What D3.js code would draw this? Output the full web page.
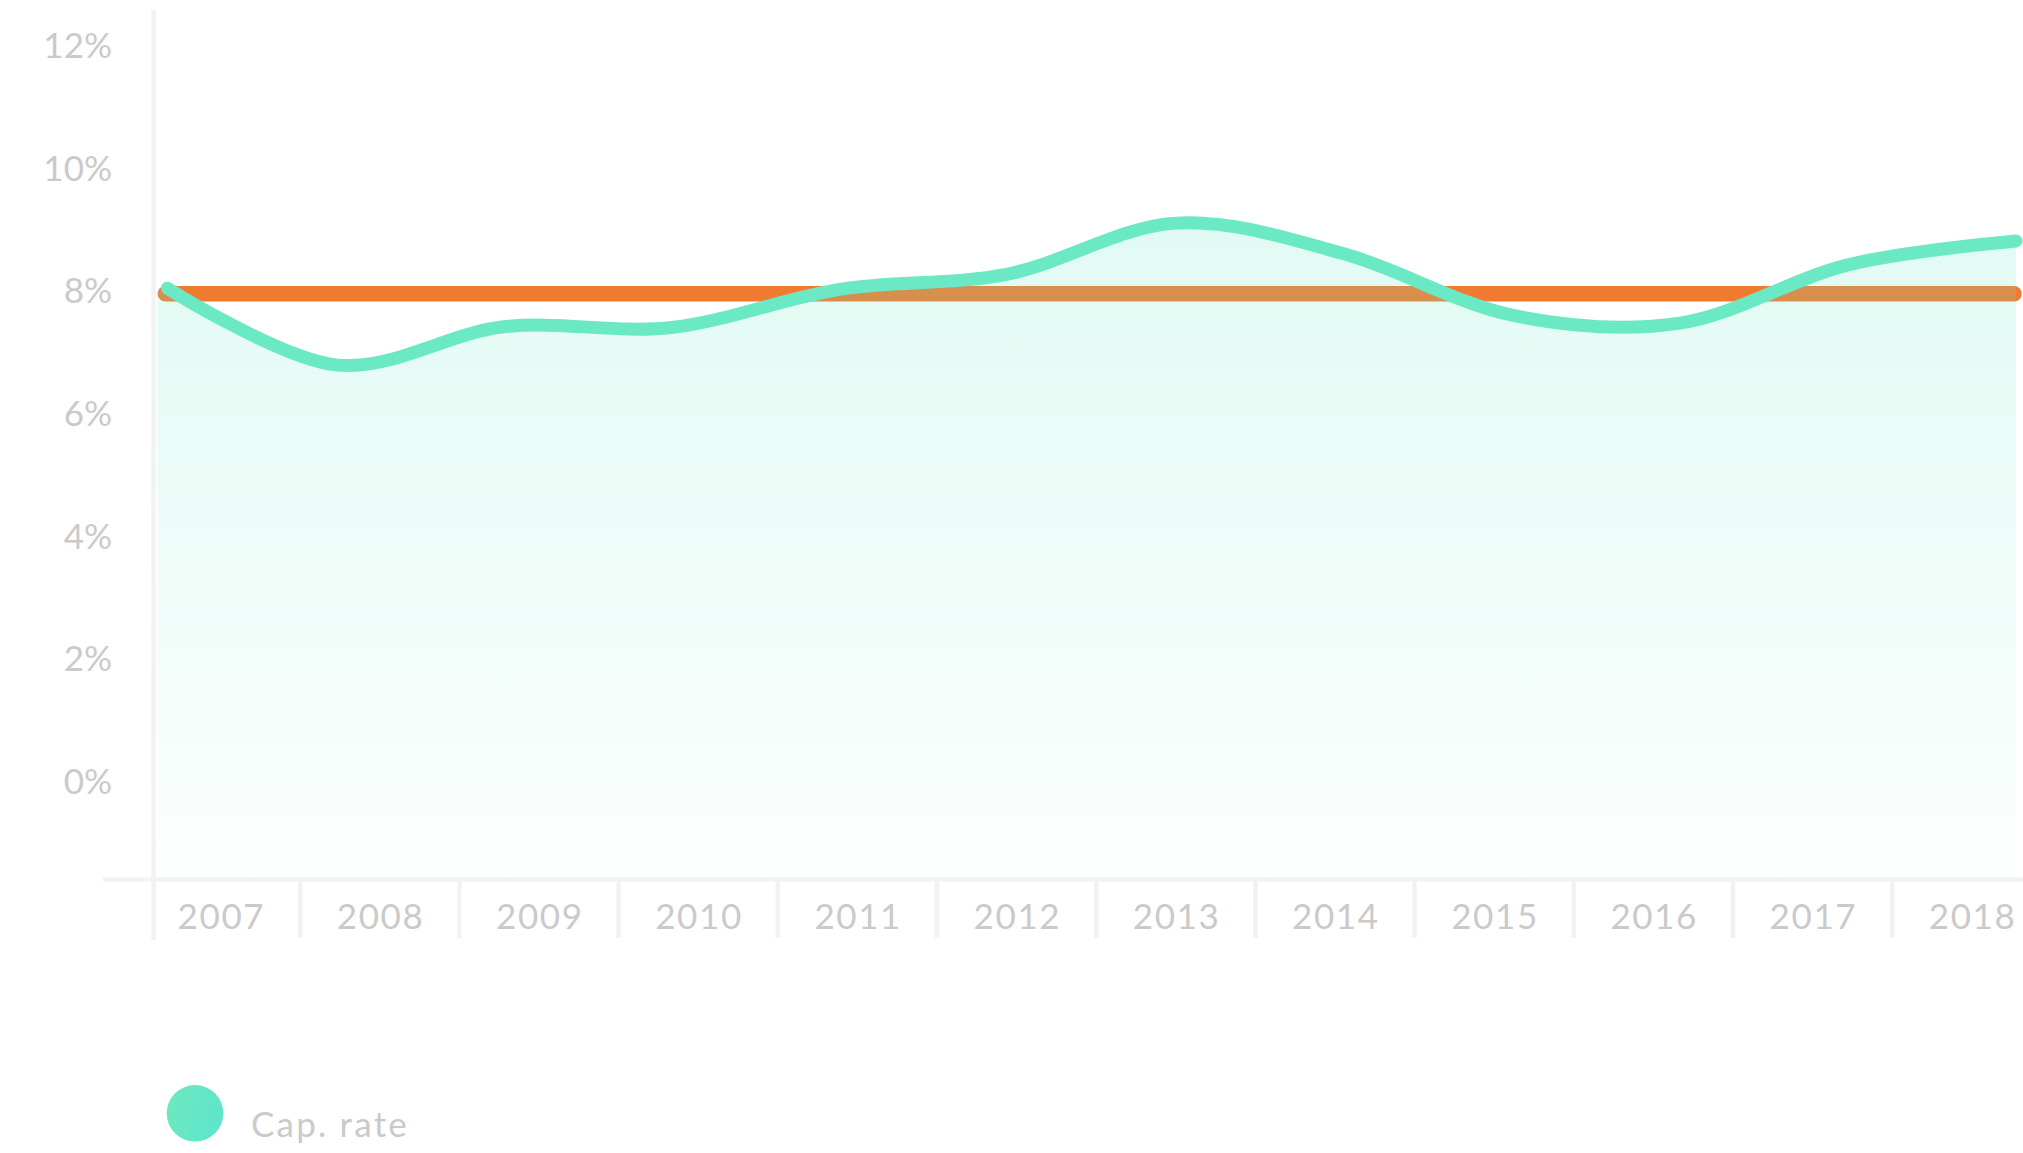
<!DOCTYPE html>
<html>
<head>
<meta charset="utf-8">
<script src="https://cdn.jsdelivr.net/npm/d3@7"></script>
<style>
  html, body { margin: 0; padding: 0; background: #ffffff; }
  svg { display: block; }
  text { font-family: "Lato", "Open Sans", sans-serif; fill: #cacaca; }
</style>
</head>
<body>
<svg id="chart" width="2023" height="1153"></svg>
<script>
// ---- data ----
const years = ["2007","2008","2009","2010","2011","2012","2013","2014","2015","2016","2017","2018"];
const capRate = [8.04, 6.79, 7.41, 7.40, 8.02, 8.27, 9.10, 8.60, 7.60, 7.47, 8.42, 8.81];
const benchmark = [7.95, 7.95, 7.95, 7.95, 7.95, 7.95, 7.95, 7.95, 7.95, 7.95, 7.95, 7.95];
const yTicks = [0, 2, 4, 6, 8, 10, 12];
const legendLabels = ["Cap. rate"];

// ---- layout ----
const W = 2023, H = 1153;
const svg = d3.select("#chart");

const y = d3.scaleLinear().domain([-1.6, 12]).range([879.6, 45.2]);
const xBand = d3.scaleBand().domain(years).range([141, 141 + 159.2 * years.length]).padding(0);
const xLine = d3.scaleLinear().domain([0, years.length - 1]).range([167.4, 2016]);

const gridColor = "#f2f2f2";
const green = "#6ae9c4";
const orange = "#f17a31";

// gradient for area
const defs = svg.append("defs");
const grad = defs.append("linearGradient")
  .attr("id", "areaGrad")
  .attr("gradientUnits", "userSpaceOnUse")
  .attr("x1", 0).attr("x2", 0)
  .attr("y1", y(9.3)).attr("y2", y(-1.6));
grad.append("stop").attr("offset", "0%").attr("stop-color", green).attr("stop-opacity", 0.21);
grad.append("stop").attr("offset", "100%").attr("stop-color", green).attr("stop-opacity", 0.02);

const legGrad = defs.append("linearGradient")
  .attr("id", "legGrad").attr("x1", 0).attr("x2", 1).attr("y1", 0).attr("y2", 0.3);
legGrad.append("stop").attr("offset", "0%").attr("stop-color", "#6fe9bf");
legGrad.append("stop").attr("offset", "100%").attr("stop-color", "#5ee5ca");

// ---- axes ----
const axisX0 = 153.5;
svg.append("line")
  .attr("x1", axisX0).attr("x2", axisX0)
  .attr("y1", 10).attr("y2", 940)
  .attr("stroke", gridColor).attr("stroke-width", 4.5);

svg.append("line")
  .attr("x1", 103).attr("x2", W)
  .attr("y1", y(-1.6)).attr("y2", y(-1.6))
  .attr("stroke", gridColor).attr("stroke-width", 4);

svg.append("g").selectAll("line")
  .data(years.slice(1))
  .join("line")
  .attr("x1", d => xBand(d)).attr("x2", d => xBand(d))
  .attr("y1", y(-1.6)).attr("y2", 938)
  .attr("stroke", gridColor).attr("stroke-width", 4.5);

// x labels
svg.append("g").selectAll("text")
  .data(years)
  .join("text")
  .attr("x", d => xBand(d) + xBand.bandwidth() / 2 + 0.8)
  .attr("y", 916.7)
  .attr("dy", "0.36em")
  .attr("text-anchor", "middle")
  .style("font-size", "35px")
  .style("letter-spacing", "1.6px")
  .text(d => d);

// y labels
svg.append("g").selectAll("text")
  .data(yTicks)
  .join("text")
  .attr("x", 112)
  .attr("y", d => y(d))
  .attr("dy", "0.36em")
  .attr("text-anchor", "end")
  .style("font-size", "35px")
  .text(d => d + "%");

// ---- benchmark line ----
const lineB = d3.line()
  .x((d, i) => xLine(i) - 2)
  .y(d => y(d));
svg.append("path")
  .datum(benchmark)
  .attr("d", lineB)
  .attr("fill", "none")
  .attr("stroke", orange)
  .attr("stroke-width", 15.5)
  .attr("stroke-linecap", "round");

// ---- cap rate area ----
const curve = d3.curveCardinal.tension(0);
const area = d3.area()
  .x((d, i) => i === 0 ? xLine(i) - 10 : xLine(i))
  .y0(y(-1.6))
  .y1(d => y(d))
  .curve(curve);
svg.append("path")
  .datum(capRate)
  .attr("d", area)
  .attr("fill", "url(#areaGrad)");

// ---- cap rate line ----
const lineC = d3.line()
  .x((d, i) => xLine(i))
  .y(d => y(d))
  .curve(curve);
svg.append("path")
  .datum(capRate)
  .attr("d", lineC)
  .attr("fill", "none")
  .attr("stroke", green)
  .attr("stroke-width", 13)
  .attr("stroke-linecap", "round")
  .attr("stroke-linejoin", "round");

// ---- legend ----
const leg = svg.append("g");
leg.selectAll("circle")
  .data(legendLabels)
  .join("circle")
  .attr("cx", 195).attr("cy", 1113.3).attr("r", 28.3)
  .attr("fill", "url(#legGrad)");
leg.selectAll("text")
  .data(legendLabels)
  .join("text")
  .attr("x", 251).attr("y", 1136.7)
  .style("font-size", "35px")
  .style("letter-spacing", "2.2px")
  .text(d => d);
</script>
</body>
</html>
